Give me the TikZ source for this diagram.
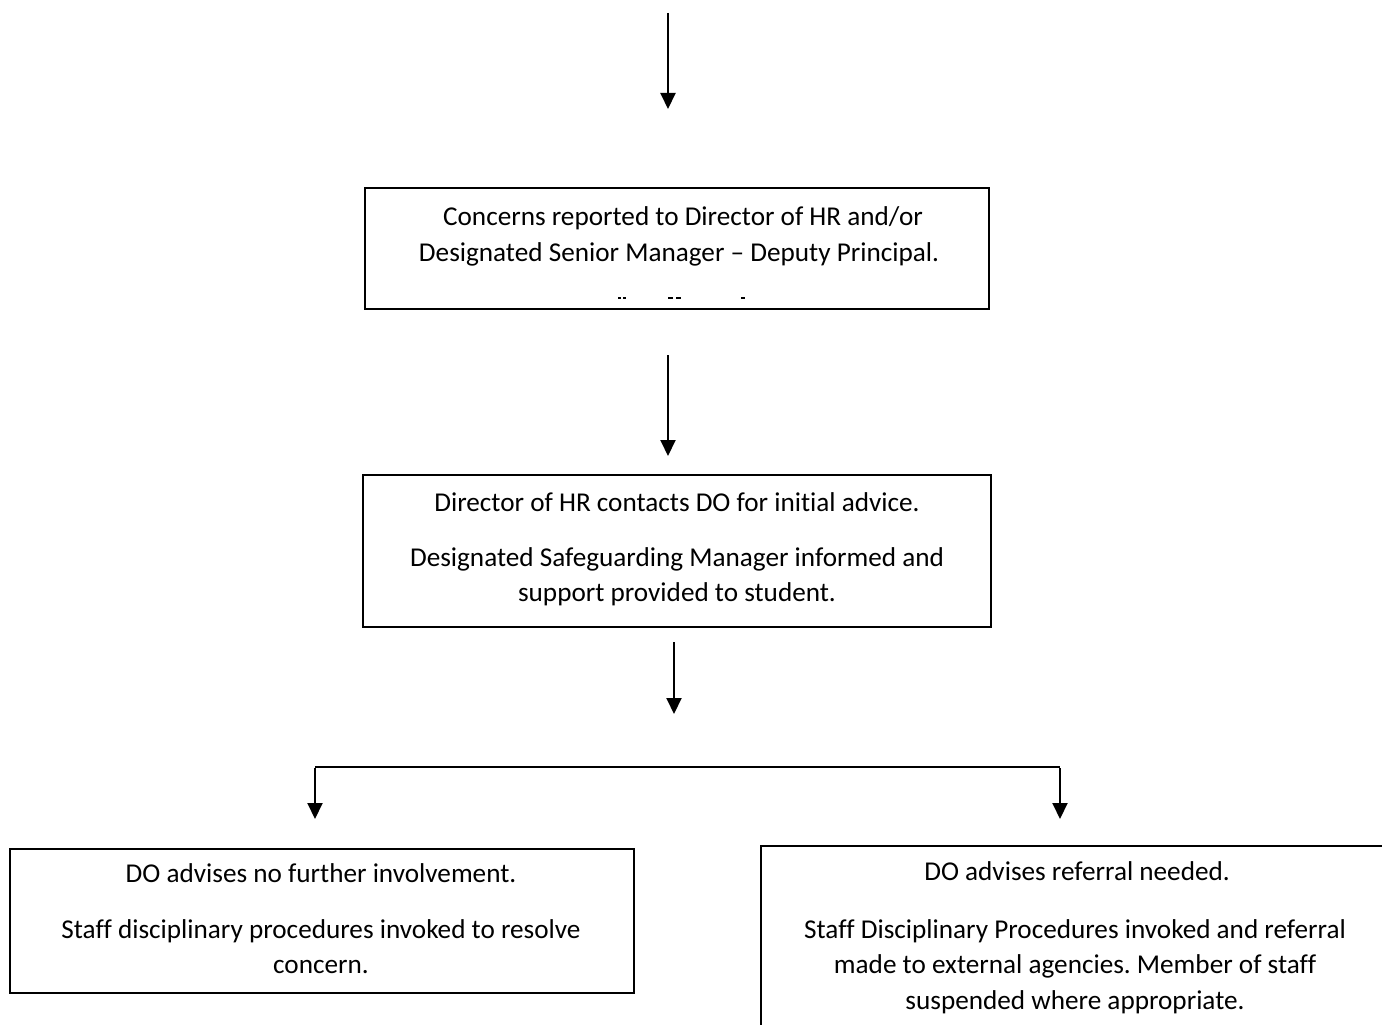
\documentclass[tikz,border=0pt]{standalone}
\usepackage{fontspec}
\setmainfont{Carlito}[Ligatures=CommonOff]
\usetikzlibrary{arrows.meta}
\frenchspacing
\begin{document}
\begin{tikzpicture}[x=1pt,y=-1pt,
  box/.style={draw=black,line width=1.8pt,inner sep=0pt},
  txt/.style={font=\fontsize{27.2}{35}\selectfont,align=center,inner sep=0pt,anchor=base},
  arr/.style={line width=2pt,-{Triangle[length=16pt,width=15pt]}},
  ln/.style={line width=2pt}]
\useasboundingbox (0,0) rectangle (1382,1025);
\clip (0,0) rectangle (1382,1025);
% boxes
\node[box,minimum width=624pt,minimum height=121pt] (b1) at (677,248.5) {};
\node[box,minimum width=628pt,minimum height=152pt] (b2) at (677,551) {};
\node[box,minimum width=624pt,minimum height=144pt] (b3) at (322,921) {};
\draw[line width=1.8pt] (1400,846) -- (761,846) -- (761,1040);
\coordinate (b4) at (1071,935);
% texts
\node[txt] (t1) at (683,225) {Concerns reported to Director of HR and/or};
\node[txt] (t2) at (679,261) {Designated Senior Manager -- Deputy Principal.};
\foreach \xa/\xb in {618/621,623/626,668/673,676/681,741/745}
  \draw[line width=1.2pt] (\xa,298) -- (\xb,298);
\node[txt] (t3) at (677,511) {Director of HR contacts DO for initial advice.};
\node[txt] (t4) at (677,566) {Designated Safeguarding Manager informed and};
\node[txt] (t5) at (677,601) {support provided to student.};
\node[txt] (t6) at (321,882) {DO advises no further involvement.};
\node[txt] (t7) at (321,938) {Staff disciplinary procedures invoked to resolve};
\node[txt] (t8) at (321,973) {concern.};
\node[txt] (t9) at (1077,880) {DO advises referral needed.};
\node[txt] (t10) at (1075,938) {Staff Disciplinary Procedures invoked and referral};
\node[txt] (t11) at (1075,973) {made to external agencies. Member of staff};
\node[txt] (t12) at (1075,1009) {suspended where appropriate.};
% connectors
\coordinate (s0) at (668,13);
\coordinate (e0) at (668,109);
\coordinate (s1) at (668,355);
\coordinate (e1) at (668,456);
\coordinate (s2) at (674,642);
\coordinate (e2) at (674,714);
\coordinate (bl) at (315,767);
\coordinate (br) at (1060,767);
\coordinate (el) at (315,819);
\coordinate (er) at (1060,819);
\draw[arr] (s0) -- (e0);
\draw[arr] (s1) -- (e1);
\draw[arr] (s2) -- (e2);
\draw[ln] (bl) -- (br);
\draw[arr] ([yshift=-1pt]bl) -- (el);
\draw[arr] ([yshift=-1pt]br) -- (er);
\end{tikzpicture}
\end{document}
